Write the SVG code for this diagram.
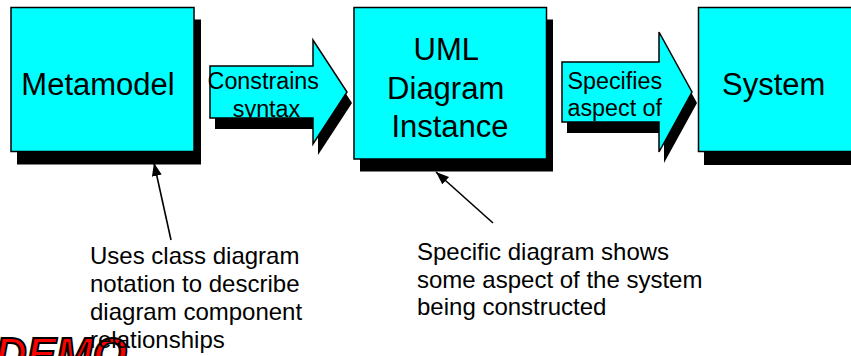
<svg xmlns="http://www.w3.org/2000/svg" width="851" height="356" viewBox="0 0 851 356">
  <style>
    .box { fill: #00FFFF; stroke: #000; stroke-width: 1.5; }
    .shadow { fill: #000; }
    .label { font-family: "Liberation Sans", Arial, sans-serif; font-size: 31px; fill: #000; }
    .flow { font-family: "Liberation Sans", Arial, sans-serif; font-size: 23.3px; fill: #000; }
    .note { font-family: "Liberation Sans", Arial, sans-serif; font-size: 24px; fill: #000; }
    .link { stroke: #000; stroke-width: 1.6; fill: none; marker-end: url(#head); }
    .stamp { font-family: "Liberation Sans", Arial, sans-serif; font-size: 44px; font-weight: bold; font-style: italic; fill: #FF0000; stroke: #000; stroke-width: 2; }
  </style>
  <defs>
    <marker id="head" markerUnits="userSpaceOnUse" markerWidth="14" markerHeight="11" refX="13" refY="5" orient="auto">
      <path d="M0,0 L13,5 L0,10 z" fill="#000"/>
    </marker>
  </defs>

  <rect width="851" height="356" fill="#FFFFFF"/>

  <!-- watermark, mostly below the bottom edge -->
  <text class="stamp" x="-5" y="368.5">DEMO</text>

  <g id="metamodel">
    <rect class="shadow" x="17" y="19.5" width="184" height="145"/>
    <rect class="box" x="11" y="7.5" width="183" height="144"/>
    <text class="label" x="98" y="95" text-anchor="middle">Metamodel</text>
  </g>

  <g id="constrains-syntax">
    <polygon class="shadow" points="215,77 318,77 318,51 352,103 318,155 318,129 215,129"/>
    <polygon class="box" points="210,66 313,66 313,40 347,92 313,144 313,118 210,118"/>
    <text class="flow" text-anchor="middle">
      <tspan x="266.5" y="89">Constrains</tspan>
      <tspan x="266.5" y="117">syntax</tspan>
    </text>
  </g>

  <g id="uml-diagram-instance">
    <rect class="shadow" x="360" y="19.5" width="193" height="152"/>
    <rect class="box" x="354" y="7.5" width="192.5" height="151.5"/>
    <text class="label" text-anchor="middle">
      <tspan x="450" y="59.5">UML</tspan>
      <tspan x="450" y="98.5">Diagram</tspan>
      <tspan x="450" y="137">Instance</tspan>
    </text>
  </g>

  <g id="specifies-aspect">
    <polygon class="shadow" points="567,73 664,73 664,43 697,103 664,163 664,133 567,133"/>
    <polygon class="box" points="562,62 659,62 659,32 692,92 659,152 659,122 562,122"/>
    <text class="flow">
      <tspan x="567.5" y="88.5">Specifies</tspan>
      <tspan x="567.5" y="116">aspect of</tspan>
    </text>
  </g>

  <g id="system">
    <rect class="shadow" x="704" y="19.5" width="190" height="145.5"/>
    <rect class="box" x="698.5" y="7.5" width="190" height="144"/>
    <text class="label" x="722" y="95">System</text>
  </g>

  <g id="connectors">
    <line class="link" x1="171" y1="240" x2="154" y2="163"/>
    <line class="link" x1="493" y1="223" x2="436" y2="172"/>
  </g>

  <g id="note-metamodel">
    <text class="note">
      <tspan x="90" y="263.5">Uses class diagram</tspan>
      <tspan x="90" y="291.8">notation to describe</tspan>
      <tspan x="90" y="320">diagram component</tspan>
      <tspan x="90" y="348.3">relationships</tspan>
    </text>
  </g>

  <g id="note-instance">
    <text class="note">
      <tspan x="417" y="260">Specific diagram shows</tspan>
      <tspan x="417" y="287.5">some aspect of the system</tspan>
      <tspan x="417" y="315">being constructed</tspan>
    </text>
  </g>
</svg>
